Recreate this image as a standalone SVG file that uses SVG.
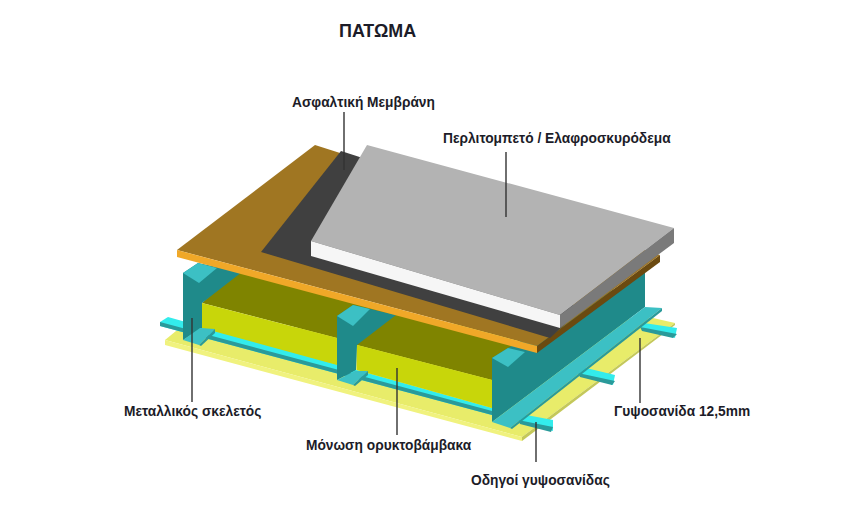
<svg xmlns="http://www.w3.org/2000/svg" width="864" height="526" viewBox="0 0 864 526">
<style>
.t{font-family:"Liberation Sans",Arial,sans-serif;font-weight:700;font-size:13.75px;fill:#1c1c28}
.l{stroke:#333;stroke-width:1.4;fill:none}
.web{fill:#1f8a8a}.fl{fill:#3cc0c4}.ol{fill:#7f8400}.li{fill:#c8d60a}
.rt{fill:#33ecec}.rs{fill:#2a9a9a}
</style>
<rect width="864" height="526" fill="#fff"/>
<g id="board">
<polygon points="165,340 176,331 653,318 675,323 522,437" fill="#e8ec6a"/>
<polygon points="165,340 522,437 522,441 165,345" fill="#f0f27e"/>
<polygon points="522,437 675,323 675,325 522,441" fill="#c4c85a"/>
</g>
<g id="rails">
<polygon points="168,317 492,408 492,415 160,326 160,322" class="rt"/>
<polygon points="160,322 492,411 492,415 160,326" class="rs"/>
<g id="cross-rails">
<polygon points="521,414 553,420 553,431 518,420" class="rt"/>
<polygon points="582,367 615,375 613,385 578,373" class="rt"/>
<polygon points="644,323 677,328 675,338 640,327" class="rt"/>
<polygon points="518,420 553,427 551,432 520,424" class="rs"/>
<polygon points="578,373 615,381 612,385 580,377" class="rs"/>
<polygon points="640,327 677,334 673,338 642,331" class="rs"/>
</g>
</g>
<g id="insulation">
<polygon points="202,303 240,268 530,345 492,380 357,345 337,338" class="ol"/>
<polygon points="202,303 337,338 337,365 202,328" class="li"/>
<polygon points="357,345 492,380 492,408 357,370" class="li"/>
</g>
<g id="beam-left">
<polygon points="183,273 198,263 242,272 202,303 202,328 183,340" class="web"/>
<polygon points="183,273 198,263 217,268 199,283" class="fl"/>
<polygon points="183,340 200,328 215,329 199,345" class="fl"/>
<polygon points="199,345 215,329 215,333 201,346" class="rs"/>
</g>
<g id="beam-mid">
<polygon points="337,316 353,305 396,315 357,345 356,370 337,380" class="web"/>
<polygon points="337,316 353,305 370,309 353,326" class="fl"/>
<polygon points="337,380 355,371 368,371 353,385" class="fl"/>
<polygon points="353,385 368,371 368,375 355,386" class="rs"/>
</g>
<g id="beam-right">
<polygon points="492,358 508,348 645,272 645,307 492,422" class="web"/>
<polygon points="492,358 508,348 525,352 508,367" class="fl"/>
<polygon points="492,422 645,307 662,308 510,428" class="fl"/>
<polygon points="510,428 662,308 662,311 512,429" class="rs"/>
</g>
<g id="deck">
<polygon points="315,145 177,250 537,346 660,255" fill="#a07622"/>
<polygon points="177,250 537,346 537,353 177,257" fill="#f0a828"/>
<polygon points="537,346 660,255 660,262 537,353" fill="#6b4a10"/>
</g>
<g id="membrane">
<polygon points="341,151 261,252 550,338 580,310 400,170" fill="#404040"/>
</g>
<g id="screed">
<polygon points="367,145 311,241 560,315 674,228" fill="#b3b3b3"/>
<polygon points="311,241 560,315 560,328 311,256" fill="#f6f6f6"/>
<polygon points="560,315 674,228 674,243 560,328" fill="#7a7a7a"/>
</g>
<g id="connectors">
<path class="l" d="M344 112V170"/>
<path class="l" d="M506 152V217"/>
<path class="l" d="M192 318V402"/>
<path class="l" d="M397 368V435"/>
<path class="l" d="M640 338V403"/>
<path class="l" d="M536 422V462"/>
</g>
<g id="labels">
<text class="t" x="339" y="37" style="font-size:17.9px">ΠΑΤΩΜΑ</text>
<text class="t" x="292" y="107">Ασφαλτική Μεμβράνη</text>
<text class="t" x="443" y="143">Περλιτομπετό / Ελαφροσκυρόδεμα</text>
<text class="t" x="124" y="416">Μεταλλικός σκελετός</text>
<text class="t" x="306" y="450">Μόνωση ορυκτοβάμβακα</text>
<text class="t" x="614" y="416">Γυψοσανίδα 12,5mm</text>
<text class="t" x="471" y="485">Οδηγοί γυψοσανίδας</text>
</g>
</svg>
